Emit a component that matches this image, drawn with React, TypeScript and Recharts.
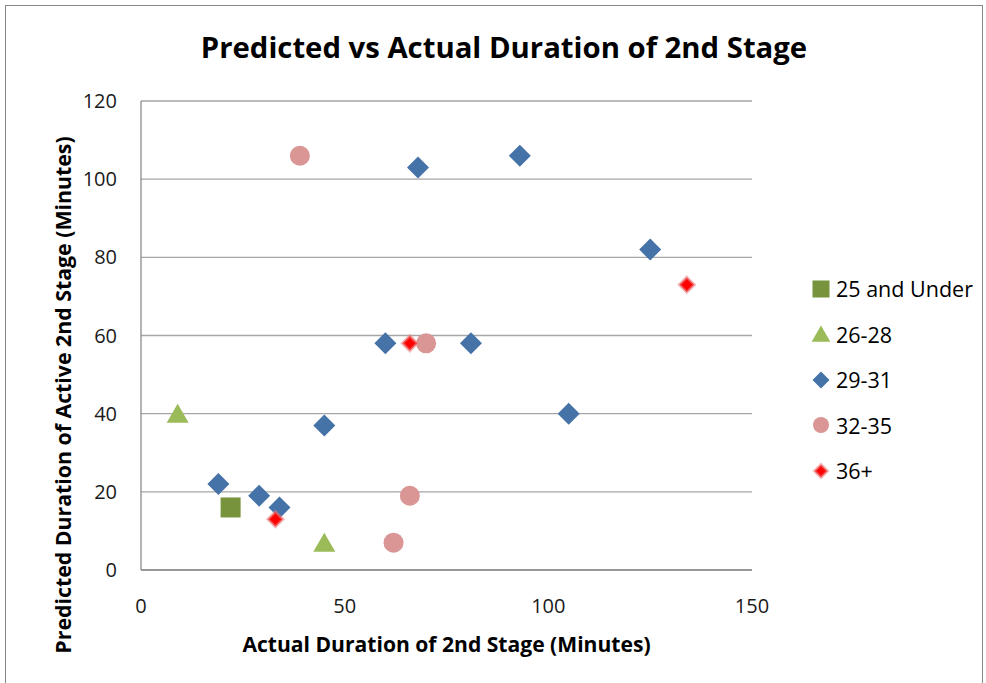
import React from 'react';
import {
  ScatterChart,
  Scatter,
  XAxis,
  YAxis,
  CartesianGrid,
} from 'recharts';

// Actual vs predicted minutes, grouped by age band
const under25 = [{ x: 22, y: 16 }];

const age26to28 = [
  { x: 9, y: 40 },
  { x: 45, y: 7 },
];

const age29to31 = [
  { x: 19, y: 22 },
  { x: 29, y: 19 },
  { x: 34, y: 16 },
  { x: 45, y: 37 },
  { x: 60, y: 58 },
  { x: 68, y: 103 },
  { x: 81, y: 58 },
  { x: 93, y: 106 },
  { x: 105, y: 40 },
  { x: 125, y: 82 },
];

const age32to35 = [
  { x: 39, y: 106 },
  { x: 70, y: 58 },
  { x: 66, y: 19 },
  { x: 62, y: 7 },
];

const age36plus = [
  { x: 33, y: 13 },
  { x: 66, y: 58 },
  { x: 134, y: 73 },
];

const X_TICKS = [0, 50, 100, 150];
const Y_TICKS = [0, 20, 40, 60, 80, 100, 120];

const FONT = '"Open Sans", Calibri, sans-serif';

const COLORS = {
  under25: '#77933c',
  age26to28: '#9bbb59',
  age29to31: '#4572a7',
  age32to35: '#d99694',
  age36plus: '#ff0000',
};

type Kind = 'square' | 'triangle' | 'diamond' | 'circle' | 'reddiamond';

// draws one marker of the given kind around (cx, cy)
function marker(kind: Kind, cx: number, cy: number, s: number) {
  switch (kind) {
    case 'square':
      return <rect x={cx - s} y={cy - s} width={s * 2} height={s * 2} fill={COLORS.under25} />;
    case 'triangle':
      return (
        <polygon
          points={`${cx},${cy - s} ${cx + s * 1.1},${cy + s * 0.9} ${cx - s * 1.1},${cy + s * 0.9}`}
          fill={COLORS.age26to28}
        />
      );
    case 'diamond':
      return (
        <polygon
          points={`${cx},${cy - s} ${cx + s},${cy} ${cx},${cy + s} ${cx - s},${cy}`}
          fill={COLORS.age29to31}
        />
      );
    case 'circle':
      return <circle cx={cx} cy={cy} r={s} fill={COLORS.age32to35} />;
    case 'reddiamond':
      return (
        <polygon
          points={`${cx},${cy - s} ${cx + s},${cy} ${cx},${cy + s} ${cx - s},${cy}`}
          fill={COLORS.age36plus}
          stroke="rgba(232,130,130,0.55)"
          strokeWidth={3}
        />
      );
  }
}

const shapeOf = (kind: Kind, s: number) => (props: any) => marker(kind, props.cx, props.cy, s);

const SERIES: { name: string; data: { x: number; y: number }[]; kind: Kind; size: number }[] = [
  { name: '25 and Under', data: under25, kind: 'square', size: 10 },
  { name: '26-28', data: age26to28, kind: 'triangle', size: 10 },
  { name: '29-31', data: age29to31, kind: 'diamond', size: 11 },
  { name: '32-35', data: age32to35, kind: 'circle', size: 10 },
  { name: '36+', data: age36plus, kind: 'reddiamond', size: 7.5 },
];

const LEGEND_ICON: Record<Kind, number> = {
  square: 8.5,
  triangle: 8.5,
  diamond: 8.5,
  circle: 8,
  reddiamond: 6.5,
};

function LegendBox() {
  return (
    <div
      style={{
        position: 'absolute',
        left: 811,
        top: 266,
        fontFamily: FONT,
        fontSize: 21.5,
        color: '#000',
      }}
    >
      {SERIES.map(s => (
        <div key={s.name} style={{ display: 'flex', alignItems: 'center', height: 45.5 }}>
          <svg width={20} height={20} style={{ marginRight: 5 }}>
            {marker(s.kind, 10, 10, LEGEND_ICON[s.kind])}
          </svg>
          <span>{s.name}</span>
        </div>
      ))}
    </div>
  );
}

function YTitle(props: any) {
  const cx = 62;
  const cy = 395;
  return (
    <text
      x={cx}
      y={cy}
      transform={`rotate(-90, ${cx}, ${cy})`}
      textAnchor="middle"
      dominantBaseline="central"
      fontFamily={FONT}
      fontWeight="bold"
      fontSize={21.3}
      fill="#000"
    >
      Predicted Duration of Active 2nd Stage (Minutes)
    </text>
  );
}

export default function App() {
  return (
    <div
      style={{
        position: 'absolute',
        left: 0,
        top: 0,
        width: 986,
        height: 683,
        background: '#fff',
        overflow: 'hidden',
      }}
    >
      <div
        style={{
          position: 'absolute',
          left: 5,
          top: 5,
          width: 976,
          height: 700,
          border: '1px solid #868686',
        }}
      />
      <div
        style={{
          position: 'absolute',
          left: 0,
          top: 27,
          width: 986,
          textAlign: 'center',
          fontFamily: FONT,
          fontWeight: 'bold',
          fontSize: 29.3,
          color: '#000',
          paddingLeft: 22,
          boxSizing: 'border-box',
          whiteSpace: 'nowrap',
        }}
      >
        Predicted vs Actual Duration of 2nd Stage
      </div>
      <div style={{ position: 'absolute', left: 0, top: 0 }}>
        <ScatterChart
          width={986}
          height={683}
          margin={{ top: 101, right: 234, bottom: 31, left: 40 }}
        >
          <CartesianGrid vertical={false} stroke="#a6a6a6" strokeWidth={1.3} />
          <XAxis
            type="number"
            dataKey="x"
            domain={[0, 150]}
            ticks={X_TICKS}
            tickLine={false}
            tickSize={0}
            tickMargin={29}
            axisLine={{ stroke: '#8c8c8c', strokeWidth: 1.3 }}
            tick={{ fontFamily: FONT, fontSize: 20, fill: '#1a1a1a' }}
            height={82}
            label={{
              value: 'Actual Duration of 2nd Stage (Minutes)',
              position: 'insideBottom',
              offset: 0,
              fontFamily: FONT,
              fontWeight: 'bold',
              fontSize: 21.1,
              fill: '#000',
            }}
          />
          <YAxis
            type="number"
            dataKey="y"
            domain={[0, 120]}
            ticks={Y_TICKS}
            tickLine={false}
            tickSize={0}
            tickMargin={24}
            axisLine={{ stroke: '#8c8c8c', strokeWidth: 1.3 }}
            tick={{ fontFamily: FONT, fontSize: 20, fill: '#1a1a1a' }}
            width={101}
            label={{ content: <YTitle /> }}
          />
          {SERIES.map(s => (
            <Scatter
              key={s.name}
              name={s.name}
              data={s.data}
              shape={shapeOf(s.kind, s.size)}
              isAnimationActive={false}
            />
          ))}
        </ScatterChart>
      </div>
      <LegendBox />
    </div>
  );
}
